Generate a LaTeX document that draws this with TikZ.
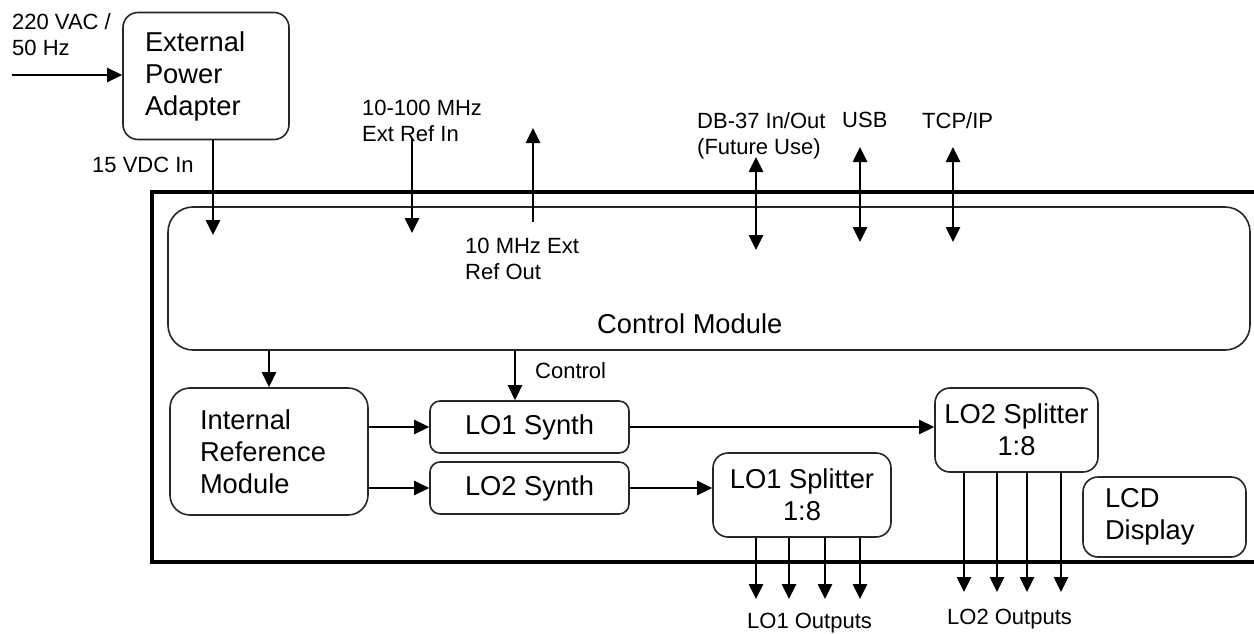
\documentclass[tikz,border=0pt]{standalone}
\usepackage{fontspec}
\setmainfont{Liberation Sans}
\usetikzlibrary{arrows.meta}

\newcommand{\bigtxt}{\fontsize{27.3}{32}\selectfont}
\newcommand{\smalltxt}{\fontsize{22}{26}\selectfont}

\begin{document}
\begin{tikzpicture}[x=1pt, y=-1pt,
    box/.style={draw=black!85, line width=1.6pt, rounded corners=15pt, font=\bigtxt},
    lbl/.style={font=\smalltxt, align=left, anchor=north west, inner sep=0pt},
    arr/.style={line width=2.6pt, -{Triangle[length=15pt,width=14pt]}},
    dblarr/.style={line width=2.6pt, {Triangle[length=15pt,width=14pt]}-{Triangle[length=15pt,width=14pt]}}]
    \useasboundingbox (0,0) rectangle (1254,634);

    % Draw chassis outline
    \draw[line width=3.2pt] (1260,192) -- (152,192) -- (152,562) -- (1260,562);

    % Draw modules
    \node[box, text width=122pt, inner xsep=22pt, minimum height=127pt, align=left] (epa) at (206,76) {External\\Power\\Adapter};
    \node[box, rounded corners=25pt, minimum width=1082pt, minimum height=143pt] (cm) at (709,278.5) {};
    \node[font=\bigtxt, anchor=north west, inner sep=0pt] (cmlbl) at (597,314) {Control Module};
    \node[box, rounded corners=20pt, text width=138pt, inner xsep=30pt, minimum height=127pt, align=left] (irm) at (269,451.5) {Internal\\Reference\\Module};
    \node[box, rounded corners=10pt, minimum width=199pt, minimum height=52pt] (lo1s) at (529.5,427) {LO1 Synth};
    \node[box, rounded corners=10pt, minimum width=199pt, minimum height=52pt] (lo2s) at (529.5,488) {LO2 Synth};
    \node[box, minimum width=178pt, minimum height=84pt, align=center] (lo1sp) at (802,495) {LO1 Splitter\\1:8};
    \node[box, minimum width=163pt, minimum height=84pt, align=center] (lo2sp) at (1016.5,430) {LO2 Splitter\\1:8};
    \node[box, text width=119pt, inner xsep=22pt, minimum height=80pt, align=left] (lcd) at (1164.5,517) {LCD\\Display};

    % Draw labels
    \node[lbl] (acl) at (12,13) {220 VAC /\\50 Hz};
    \node[lbl] (dcl) at (92,157) {15 VDC In};
    \node[lbl] (refinl) at (362,100) {10-100 MHz\\Ext Ref In};
    \node[lbl] (refoutl) at (465,238) {10 MHz Ext\\Ref Out};
    \node[lbl] (dbl) at (697,112) {DB-37 In/Out\\(Future Use)};
    \node[lbl] (usbl) at (842,112) {USB};
    \node[lbl] (tcpl) at (922,112) {TCP/IP};
    \node[lbl] (ctll) at (535,362) {Control};
    \node[lbl] (o1l) at (747,613) {LO1 Outputs};
    \node[lbl] (o2l) at (947,609) {LO2 Outputs};

    % Draw free ends
    \coordinate (acin) at (12,75);
    \coordinate (dcend) at (213,235);
    \coordinate (refin) at (412,138);
    \coordinate (refinend) at (412,233);
    \coordinate (refout) at (533,222);
    \coordinate (refoutend) at (533,128);
    \coordinate (dbtop) at (756,157);
    \coordinate (dbbot) at (756,250);
    \coordinate (usbtop) at (860,147);
    \coordinate (usbbot) at (860,242);
    \coordinate (tcptop) at (953,147);
    \coordinate (tcpbot) at (953,242);
    \coordinate (ctl) at (515,375);

    % Draw power and reference connections
    \draw[arr] (acin) -- (acin -| epa.west);
    \draw[arr] (epa.south -| dcend) -- (dcend);
    \draw[arr] (refin) -- (refinend);
    \draw[arr] (refout) -- (refoutend);
    \draw[dblarr] (dbtop) -- (dbbot);
    \draw[dblarr] (usbtop) -- (usbbot);
    \draw[dblarr] (tcptop) -- (tcpbot);

    % Draw signal path
    \draw[arr] (cm.south -| irm) -- (irm.north);
    \draw[arr] (cm.south -| ctl) -- (lo1s.north -| ctl);
    \draw[arr] (irm.east |- lo1s) -- (lo1s.west);
    \draw[arr] (irm.east |- lo2s) -- (lo2s.west);
    \draw[arr] (lo1s.east) -- (lo1s.east -| lo2sp.west);
    \draw[arr] (lo2s.east) -- (lo2s.east -| lo1sp.west);

    % Draw outputs
    \foreach \x [count=\i] in {756,789,825,860} {
        \coordinate (oa\i) at (\x,599);
        \draw[arr] (lo1sp.south -| oa\i) -- (oa\i);
    }
    \foreach \x [count=\i] in {964,997,1027,1061} {
        \coordinate (ob\i) at (\x,592);
        \draw[arr] (lo2sp.south -| ob\i) -- (ob\i);
    }
\end{tikzpicture}
\end{document}
